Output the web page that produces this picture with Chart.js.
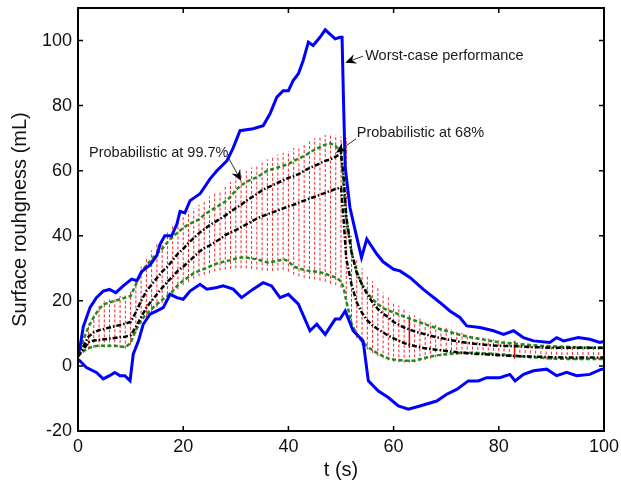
<!DOCTYPE html>
<html>
<head>
<meta charset="utf-8">
<script src="https://cdn.jsdelivr.net/npm/chart.js@4.4.0/dist/chart.umd.min.js"></script>
<style>
  html, body { margin: 0; padding: 0; background: #fff; }
  canvas { display: block; }
</style>
</head>
<body>
<canvas id="myChart" width="621" height="484"></canvas>
<script>
// worst-case envelope (blue)
const worstHiT = [0, 0.4, 1, 2.3, 3.5, 4.8, 6, 7.2, 8.6, 10.2, 11.2, 12.1, 13.7, 15, 15.6, 16.5, 17.8, 18.8, 19.4, 20.3, 21.3, 23.2, 25.1, 26.4, 28.3, 29.5, 30.8, 33.3, 35.2, 36.5, 37.8, 39, 40, 40.9, 41.9, 42.8, 43.8, 44.7, 46, 47, 47.9, 48.9, 49.8, 50.2, 50.5, 50.8, 51.7, 53, 53.9, 54.9, 56.8, 58, 60, 61.2, 63.1, 65.6, 68.8, 70.7, 72.6, 73.9, 76.4, 79, 80.9, 82.8, 84.7, 86.6, 89.7, 91, 92.3, 95.1, 97.3, 99.2, 100];
const worstHiV = [3, 6, 12, 18, 21, 23, 23.5, 22.5, 24.6, 26.7, 26.2, 29, 31, 34, 37.4, 40, 40, 43.6, 47.5, 47, 50.8, 52.9, 57.5, 60, 63, 67, 72.3, 72.9, 73.8, 77.5, 82.6, 84.6, 84.6, 87.7, 89.8, 93.8, 99.5, 98.5, 101, 103.3, 102, 100.5, 101, 101, 80, 61, 48.7, 39.5, 33.3, 39, 34.4, 32, 29.7, 29.2, 27.2, 23.6, 19.5, 16.9, 14.9, 12.3, 11.8, 10.8, 9.7, 10.8, 8.7, 7.7, 7.2, 8.7, 7.7, 8.7, 8.2, 7.2, 7.5];
const worstLoT = [0, 0.4, 1.6, 3.5, 4.8, 6, 7, 8, 8.9, 9.9, 10.5, 11.5, 12.4, 13.7, 15, 16.2, 17.5, 18.8, 20, 21.3, 23.2, 24.5, 26.4, 27.6, 29.5, 31.1, 33.3, 35.2, 36.8, 38.4, 40, 41.9, 44.1, 45.4, 47, 48.9, 49.8, 50.8, 52.3, 54.2, 55.2, 57.1, 59, 60.9, 62.8, 65, 68.2, 70.1, 72, 74.2, 76.1, 77.7, 80.2, 82.1, 83.1, 84.7, 86.6, 89.1, 91, 92.9, 94.8, 97.3, 99.5, 100];
const worstLoV = [2, 1.5, -0.5, -2, -4, -3, -2, -3, -3, -4.6, 3.6, 7.7, 12.8, 15.9, 16.9, 17.9, 22, 21, 20.5, 23, 25.1, 23.6, 24.1, 24.6, 23.6, 21, 23.6, 25.6, 24.6, 21, 22, 19, 10.8, 12.8, 9.7, 14.4, 14.4, 16.9, 10.8, 7.7, -4.6, -7.7, -9.7, -12.3, -13.3, -12.3, -10.8, -8.7, -7.2, -4.6, -4.6, -3.6, -3.6, -2.6, -4.6, -2.6, -1.5, -1, -3, -2, -3, -2.6, -1, -1];

// probabilistic bounds, common time grid
const tGrid = [0, 1, 2, 3, 4, 5, 6, 7, 8, 9, 10, 11, 12, 13, 14, 15, 16, 17, 18, 19, 20, 21, 22, 23, 24, 25, 26, 27, 28, 29, 30, 31, 32, 33, 34, 35, 36, 37, 38, 39, 40, 41, 42, 43, 44, 45, 46, 47, 48, 49, 50, 50.5, 51, 52, 53, 54, 55, 56, 57, 58, 59, 60, 62, 64, 66, 68, 70, 72, 74, 76, 78, 80, 82, 84, 86, 88, 90, 92, 94, 96, 98, 100];
// 99.7% (green)
const p997Hi = [3, 8, 12, 15, 17.5, 19, 19.5, 20, 20.5, 21, 21.5, 25, 28.5, 31, 32.8, 34.5, 36, 38, 39.8, 41, 42.5, 43.5, 44.3, 45, 46.5, 47.5, 48.5, 49.5, 50.5, 52, 54, 55.5, 56.5, 57.3, 58, 59, 60, 60.5, 61, 61.5, 62, 63, 63.8, 64.5, 65.5, 66.5, 67.2, 68, 68.4, 67.5, 66, 55, 45, 35, 29, 25, 22.5, 20.5, 19, 17.8, 17, 16.5, 15.2, 14, 12.8, 11.7, 10.8, 9.8, 9, 8.4, 7.8, 7.3, 7, 6.7, 6.4, 6.2, 6, 5.9, 5.8, 5.7, 5.6, 5.5];
const p997Lo = [3, 4.5, 5.5, 6, 6.2, 6.2, 6.2, 6.2, 6, 5.8, 7, 11, 14, 16, 17.5, 19, 20.3, 21.5, 23, 24.8, 26.2, 27.3, 28.5, 29.2, 29.8, 30.5, 31.3, 31.7, 32.2, 32.5, 33, 33.3, 33.3, 33, 32.8, 32.3, 31.8, 32, 32.3, 32.8, 32.2, 30.5, 30, 29.5, 29.2, 29, 28.8, 28.3, 27.7, 27.2, 26, 24, 20, 13, 9.7, 7.5, 6, 4.8, 3.8, 3, 2.3, 2, 1.6, 1.6, 2.5, 3.2, 3.6, 3.9, 4.1, 4, 3.8, 3.6, 3.3, 3, 2.7, 2.5, 2.3, 2.2, 2.1, 2.1, 2.1, 2.1];
// 68% (black)
const p68Hi = [3, 6, 9, 10.3, 11, 11.4, 11.8, 12.2, 12.6, 13, 13.5, 16.5, 20, 23, 25, 27, 29, 30.5, 32.5, 34.5, 36, 37.8, 39.3, 40.8, 42, 43.2, 44.2, 45.2, 46.2, 47.4, 48.5, 49.5, 50.8, 51.8, 52.8, 54, 54.8, 55.5, 56.3, 57, 57.8, 58.3, 59, 60, 60.8, 61.5, 62.3, 63, 63.5, 64.3, 65.3, 58, 46, 35, 28.5, 25, 22, 19.5, 17.5, 16, 15, 13.5, 11.8, 10.6, 9.7, 8.9, 8.2, 7.6, 7.1, 6.7, 6.4, 6.2, 6.1, 6, 5.8, 5.7, 5.6, 5.6, 5.6, 5.6, 5.6, 5.6];
const p68Lo = [3, 5, 7.3, 7.8, 8, 8.2, 8.4, 8.6, 8.8, 9, 9.4, 12, 15, 17.9, 20, 22, 24, 25.8, 27.5, 29.3, 30.5, 32, 33.5, 35, 36.2, 37, 38, 39, 40.2, 41, 41.7, 42.6, 43.5, 44.4, 45.3, 46, 46.6, 47.2, 47.8, 48.4, 49, 49.5, 50.2, 50.8, 51.4, 52, 52.6, 53.2, 53.8, 54.4, 54.8, 45, 33, 25, 19.5, 16.3, 14, 12.5, 11.3, 10.3, 9.3, 8.5, 7, 6.1, 5.4, 5, 4.6, 4.2, 3.9, 3.7, 3.5, 3.3, 3.1, 3, 2.9, 2.8, 2.7, 2.6, 2.6, 2.6, 2.6, 2.6];

// sample spread (red vertical marks), one per second
const spreadT = [0, 1, 2, 3, 4, 5, 6, 7, 8, 9, 10, 11, 12, 13, 14, 15, 16, 17, 18, 19, 20, 21, 22, 23, 24, 25, 26, 27, 28, 29, 30, 31, 32, 33, 34, 35, 36, 37, 38, 39, 40, 41, 42, 43, 44, 45, 46, 47, 48, 49, 50, 51, 52, 53, 54, 55, 56, 57, 58, 59, 60, 61, 62, 63, 64, 65, 66, 67, 68, 69, 70, 71, 72, 73, 74, 75, 76, 77, 78, 79, 80, 81, 82, 83, 84, 85, 86, 87, 88, 89, 90, 91, 92, 93, 94, 95, 96, 97, 98, 99, 100];
const spreadHi = [4, 9, 13, 16, 18.5, 20, 20.5, 21, 21.5, 22, 23, 27, 30.5, 33.5, 35.5, 37.5, 39, 41, 43, 44.5, 46, 47.5, 48.5, 49.5, 51, 52, 53, 54, 55, 56.5, 58, 59, 60, 61, 61.5, 62.5, 63.5, 64, 65, 65.5, 66, 67, 67.5, 68.5, 69, 70, 70.5, 71, 71.5, 71, 70.5, 70, 40, 33, 30, 28, 26, 24, 22.5, 21, 19.5, 18.5, 17.5, 16.5, 15.5, 14.8, 14, 13.3, 12.7, 12.2, 11.7, 11.2, 10.7, 10.2, 9.8, 9.4, 9, 8.7, 8.4, 8.1, 7.9, 7.7, 7.5, 7.3, 7.2, 7, 6.9, 6.8, 6.7, 6.6, 6.5, 6.4, 6.4, 6.3, 6.3, 6.2, 6.2, 6.1, 6.1, 6, 6];
const spreadLo = [2, 4, 5, 5.5, 5.7, 5.7, 5.7, 5.7, 5.5, 5.3, 6.5, 10, 13, 15, 16.5, 18, 19.3, 20.5, 22, 23.5, 24.8, 25.8, 26.8, 27.5, 28, 28.5, 29, 29.3, 29.6, 29.8, 30, 30, 30, 29.8, 29.6, 29.4, 29.2, 29.2, 29.3, 29.5, 29, 28, 27.5, 27, 26.7, 26.5, 26.2, 25.8, 25.3, 24.8, 24, 19, 12, 8.5, 6.5, 5, 4, 3, 2.3, 1.7, 1.3, 1.1, 1, 1, 1.1, 1.4, 1.8, 2.2, 2.6, 2.9, 3.1, 3.3, 3.4, 3.5, 3.5, 3.5, 3.4, 3.3, 3.2, 3.1, 3, 2.9, 2.8, 2.6, 2.5, 2.4, 2.3, 2.2, 2.1, 2, 1.9, 1.9, 1.8, 1.8, 1.8, 1.8, 1.8, 1.8, 1.8, 1.8, 1.8];
const markT = [63, 83];
const markLo = [5.5, 2.2];
const markHi = [14.8, 7.7];

const xTicks = [0, 20, 40, 60, 80, 100];
const yTicks = [-20, 0, 20, 40, 60, 80, 100];

// annotation text + arrow (text anchor, arrow start, arrow tip) in data units
const notes = [
  { text: "Worst-case performance", tx: 54.6, ty: 95.4, fx: 54.2, fy: 95.2, hx: 50.8, hy: 93.2 },
  { text: "Probabilistic at 68%", tx: 53.0, ty: 71.7, fx: 52.85, fy: 69.8, hx: 49.05, hy: 65.5 },
  { text: "Probabilistic at 99.7%", tx: 2.1, ty: 65.5, fx: 28.7, fy: 63.7, hx: 31.0, hy: 56.9 },
];

function pts(t, v) {
  return t.map((x, i) => ({ x: x, y: v[i] }));
}
function bars(t, lo, hi) {
  const out = [];
  t.forEach((x, i) => {
    out.push({ x: x, y: lo[i] }, { x: x, y: hi[i] }, { x: x, y: null });
  });
  return out;
}

const frame = {
  id: "frame",
  afterDatasetsDraw(chart) {
    const { ctx, chartArea: a, scales: { x, y } } = chart;
    ctx.save();
    ctx.strokeStyle = "#000";
    ctx.lineWidth = 1.5;
    ctx.beginPath();
    xTicks.forEach((v) => {
      const px = x.getPixelForValue(v);
      ctx.moveTo(px, a.bottom); ctx.lineTo(px, a.bottom - 5);
      ctx.moveTo(px, a.top); ctx.lineTo(px, a.top + 5);
    });
    yTicks.forEach((v) => {
      const py = y.getPixelForValue(v);
      ctx.moveTo(a.left, py); ctx.lineTo(a.left + 5, py);
      ctx.moveTo(a.right, py); ctx.lineTo(a.right - 5, py);
    });
    ctx.stroke();
    ctx.lineWidth = 2;
    ctx.strokeRect(a.left, a.top, a.right - a.left, a.bottom - a.top);

    ctx.font = '14.5px "Liberation Sans", Arial, sans-serif';
    ctx.textAlign = "left";
    ctx.textBaseline = "middle";
    notes.forEach((n) => {
      ctx.fillStyle = "#1a1a1a";
      ctx.fillText(n.text, x.getPixelForValue(n.tx), y.getPixelForValue(n.ty));
      const x0 = x.getPixelForValue(n.fx), y0 = y.getPixelForValue(n.fy);
      const x1 = x.getPixelForValue(n.hx), y1 = y.getPixelForValue(n.hy);
      const ang = Math.atan2(y1 - y0, x1 - x0);
      ctx.strokeStyle = "#333";
      ctx.lineWidth = 1;
      ctx.beginPath();
      ctx.moveTo(x0, y0);
      ctx.lineTo(x1 - 6 * Math.cos(ang), y1 - 6 * Math.sin(ang));
      ctx.stroke();
      // arrow head
      const L = 11, W = 5;
      const bx = x1 - L * Math.cos(ang), by = y1 - L * Math.sin(ang);
      const nx = -Math.sin(ang), ny = Math.cos(ang);
      const cx = x1 - 0.65 * L * Math.cos(ang), cy = y1 - 0.65 * L * Math.sin(ang);
      ctx.fillStyle = "#000";
      ctx.beginPath();
      ctx.moveTo(x1, y1);
      ctx.lineTo(bx + W * nx, by + W * ny);
      ctx.lineTo(cx, cy);
      ctx.lineTo(bx - W * nx, by - W * ny);
      ctx.closePath();
      ctx.fill();
    });
    ctx.restore();
  },
};

Chart.defaults.font.family = '"Liberation Sans", Arial, sans-serif';
Chart.defaults.color = "#111";

const ctx = document.getElementById("myChart").getContext("2d");
new Chart(ctx, {
  type: "line",
  data: {
    datasets: [
      {
        label: "Worst-case upper",
        data: pts(worstHiT, worstHiV),
        borderColor: "#0000ff",
        borderWidth: 3,
        order: 0,
      },
      {
        label: "Worst-case lower",
        data: pts(worstLoT, worstLoV),
        borderColor: "#0000ff",
        borderWidth: 3,
        order: 0,
      },
      {
        label: "68% upper",
        data: pts(tGrid, p68Hi),
        borderColor: "#000",
        borderWidth: 2.5,
        borderDash: [5, 2, 1.5, 2],
        order: 1,
      },
      {
        label: "68% lower",
        data: pts(tGrid, p68Lo),
        borderColor: "#000",
        borderWidth: 2.5,
        borderDash: [5, 2, 1.5, 2],
        order: 1,
      },
      {
        label: "99.7% upper",
        data: pts(tGrid, p997Hi),
        borderColor: "#1f8a1f",
        borderWidth: 2.5,
        borderDash: [4, 2.5],
        order: 2,
      },
      {
        label: "99.7% lower",
        data: pts(tGrid, p997Lo),
        borderColor: "#1f8a1f",
        borderWidth: 2.5,
        borderDash: [4, 2.5],
        order: 2,
      },
      {
        label: "spread",
        data: bars(spreadT, spreadLo, spreadHi),
        borderColor: "rgba(240,0,0,0.85)",
        borderWidth: 1,
        borderDash: [3, 2],
        spanGaps: false,
        order: 3,
      },
      {
        label: "marks",
        data: bars(markT, markLo, markHi),
        borderColor: "#ee0000",
        borderWidth: 1.5,
        spanGaps: false,
        order: 3,
      },
    ],
  },
  options: {
    responsive: false,
    animation: false,
    devicePixelRatio: 1,
    layout: { padding: { top: 8, right: 17, left: 0, bottom: 0 } },
    elements: {
      point: { radius: 0, hoverRadius: 0 },
      line: { tension: 0, fill: false },
    },
    plugins: { legend: { display: false }, tooltip: { enabled: false } },
    scales: {
      x: {
        type: "linear",
        min: 0,
        max: 100,
        afterFit: (s) => { s.height = 53; s.paddingLeft = 0; s.paddingRight = 0; },
        afterBuildTicks: (s) => { s.ticks = xTicks.map((v) => ({ value: v })); },
        grid: { display: false, drawTicks: false },
        border: { display: false },
        ticks: { padding: 5, font: { size: 18 }, color: "#111", maxRotation: 0 },
        title: { display: true, text: "t (s)", font: { size: 20 }, color: "#111", padding: { top: 0, bottom: 2 } },
      },
      y: {
        type: "linear",
        min: -20,
        max: 110,
        afterFit: (s) => { s.width = 78; s.paddingTop = 0; s.paddingBottom = 0; },
        afterBuildTicks: (s) => { s.ticks = yTicks.map((v) => ({ value: v })); },
        grid: { display: false, drawTicks: false },
        border: { display: false },
        ticks: { padding: 6, font: { size: 18 }, color: "#111" },
        title: { display: true, text: "Surface rouhgness (mL)", font: { size: 20 }, color: "#111", padding: { top: 8, bottom: 0 } },
      },
    },
  },
  plugins: [frame],
});
</script>
</body>
</html>
